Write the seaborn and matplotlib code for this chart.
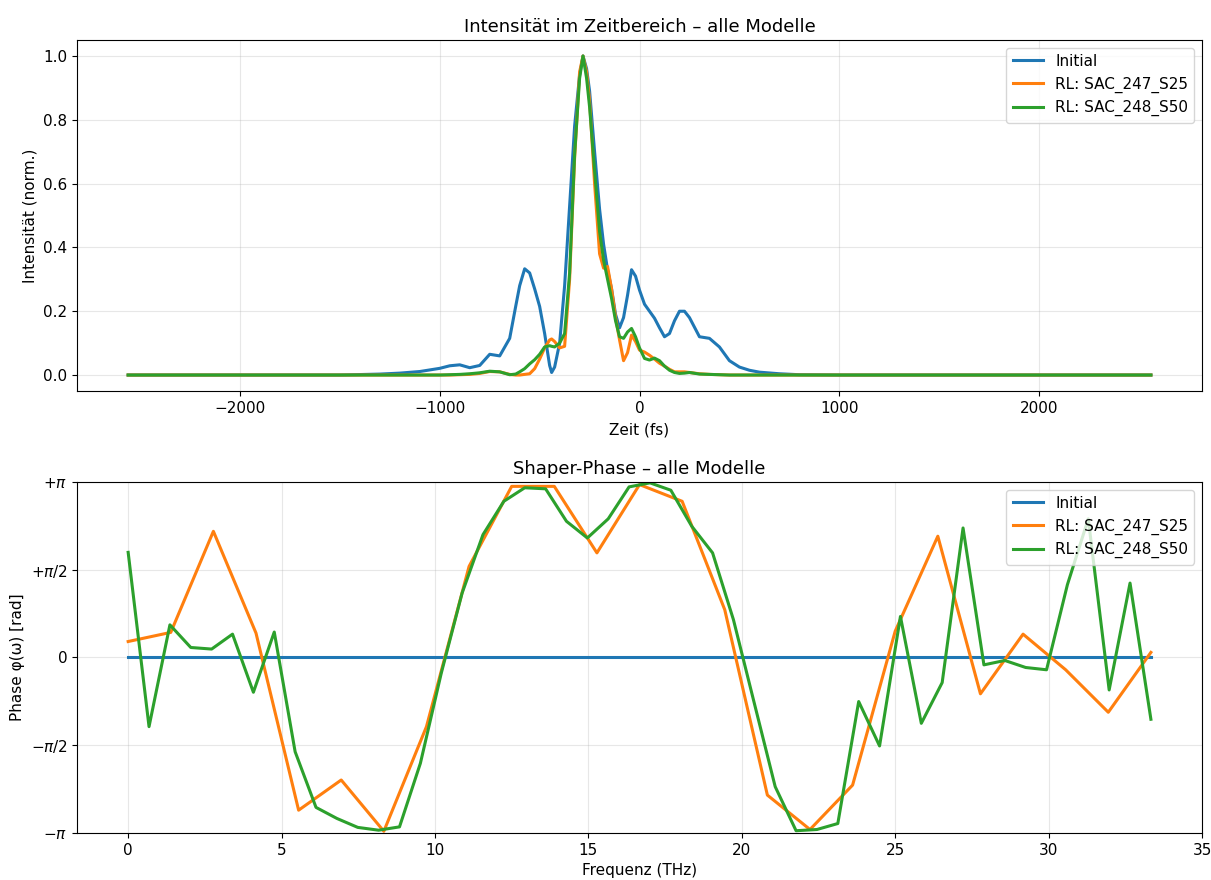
import numpy as np
import pandas as pd
import matplotlib
matplotlib.use("Agg")
import matplotlib.pyplot as plt
import seaborn as sns

# ---------------- data: time domain ----------------
time_fs = [-2560, -1500, -1300, -1200, -1100, -1000, -950, -900, -850, -800,
           -750, -700, -650, -620, -600, -575, -550, -525, -500, -475,
           -450, -440, -425, -400, -375, -350, -325, -300, -283, -265,
           -250, -225, -200, -180, -160, -140, -120, -100, -80, -60,
           -40, -20, 0, 25, 50, 75, 100, 125, 150, 175,
           200, 225, 250, 300, 350, 400, 450, 500, 550, 600,
           700, 800, 1000, 1500, 2560]

int_initial = [0.0, 0.0, 0.003, 0.006, 0.011, 0.021, 0.029, 0.032, 0.023, 0.030,
               0.065, 0.060, 0.115, 0.215, 0.280, 0.333, 0.320, 0.270, 0.215, 0.130,
               0.030, 0.008, 0.025, 0.100, 0.280, 0.530, 0.780, 0.940, 1.000, 0.960,
               0.890, 0.700, 0.520, 0.410, 0.330, 0.270, 0.190, 0.148, 0.180, 0.250,
               0.330, 0.310, 0.266, 0.222, 0.200, 0.178, 0.148, 0.120, 0.130, 0.170,
               0.200, 0.200, 0.180, 0.120, 0.115, 0.088, 0.045, 0.025, 0.015, 0.009,
               0.004, 0.001, 0.0, 0.0, 0.0]

int_sac247 = [0.0, 0.0, 0.0, 0.0, 0.0, 0.0, 0.0, 0.001, 0.002, 0.005,
              0.011, 0.010, 0.002, 0.0, 0.0, 0.002, 0.004, 0.020, 0.050, 0.085,
              0.110, 0.113, 0.105, 0.085, 0.090, 0.300, 0.680, 0.950, 1.000, 0.950,
              0.860, 0.600, 0.380, 0.335, 0.340, 0.270, 0.180, 0.110, 0.045, 0.070,
              0.125, 0.105, 0.078, 0.072, 0.062, 0.050, 0.037, 0.028, 0.018, 0.010,
              0.010, 0.010, 0.008, 0.004, 0.002, 0.001, 0.0, 0.0, 0.0, 0.0,
              0.0, 0.0, 0.0, 0.0, 0.0]

int_sac248 = [0.0, 0.0, 0.0, 0.0, 0.0, 0.0, 0.001, 0.002, 0.004, 0.007,
              0.012, 0.010, 0.001, 0.003, 0.010, 0.020, 0.035, 0.048, 0.065, 0.088,
              0.092, 0.090, 0.088, 0.100, 0.130, 0.320, 0.690, 0.930, 1.000, 0.930,
              0.840, 0.640, 0.450, 0.360, 0.300, 0.240, 0.170, 0.120, 0.115, 0.135,
              0.146, 0.120, 0.085, 0.052, 0.047, 0.053, 0.045, 0.028, 0.015, 0.008,
              0.005, 0.006, 0.008, 0.003, 0.002, 0.001, 0.0, 0.0, 0.0, 0.0,
              0.0, 0.0, 0.0, 0.0, 0.0]

# ---------------- data: shaper phase (in units of pi) ----------------
f_max_thz = 100.0 / 3.0
freq_sac247 = np.linspace(0, f_max_thz, 25)
freq_sac248 = np.linspace(0, f_max_thz, 50)
freq_initial = freq_sac248

phase_initial_pi = [0.0] * 50

phase_sac247_pi = [0.091, 0.143, 0.719, 0.139, -0.870, -0.698, -0.990, -0.394, 0.519, 0.975,
                   0.975, 0.596, 0.985, 0.890, 0.272, -0.784, -0.980, -0.727, 0.150, 0.691,
                   -0.207, 0.133, -0.070, -0.312, 0.029]

phase_sac248_pi = [0.599, -0.394, 0.186, 0.057, 0.048, 0.133, -0.198, 0.145, -0.537, -0.854,
                   -0.917, -0.968, -0.984, -0.965, -0.603, -0.090, 0.367, 0.700, 0.890, 0.967,
                   0.961, 0.776, 0.681, 0.790, 0.972, 0.995, 0.953, 0.748, 0.596, 0.215,
                   -0.261, -0.736, -0.987, -0.980, -0.946, -0.251, -0.504, 0.234, -0.375, -0.143,
                   0.738, -0.042, -0.017, -0.057, -0.070, 0.415, 0.790, -0.185, 0.424, -0.352]

labels = ["Initial", "RL: SAC_247_S25", "RL: SAC_248_S50"]
colors = ["#1f77b4", "#ff7f0e", "#2ca02c"]

# ---------------- build tables ----------------
df_t = pd.concat([
    pd.DataFrame({"t": time_fs, "I": int_initial, "model": labels[0]}),
    pd.DataFrame({"t": time_fs, "I": int_sac247, "model": labels[1]}),
    pd.DataFrame({"t": time_fs, "I": int_sac248, "model": labels[2]}),
], ignore_index=True)

df_p = pd.concat([
    pd.DataFrame({"f": freq_initial, "phi": np.array(phase_initial_pi) * np.pi, "model": labels[0]}),
    pd.DataFrame({"f": freq_sac247, "phi": np.array(phase_sac247_pi) * np.pi, "model": labels[1]}),
    pd.DataFrame({"f": freq_sac248, "phi": np.array(phase_sac248_pi) * np.pi, "model": labels[2]}),
], ignore_index=True)

# ---------------- figure ----------------
fig = plt.figure(figsize=(12.11, 8.8), dpi=100)
ax1 = fig.add_axes([0.0636, 0.5557, 0.9290, 0.3988])
ax2 = fig.add_axes([0.0636, 0.0534, 0.9290, 0.3989])

sns.lineplot(data=df_t, x="t", y="I", hue="model", hue_order=labels,
             palette=colors, estimator=None, linewidth=2.2, ax=ax1)
ax1.set_title("Intensität im Zeitbereich – alle Modelle", fontsize=13)
ax1.set_xlabel("Zeit (fs)", fontsize=11, labelpad=5)
ax1.set_ylabel("Intensität (norm.)", fontsize=11)
ax1.grid(True, alpha=0.3)
ax1.legend(loc="upper right", fontsize=11)

sns.lineplot(data=df_p, x="f", y="phi", hue="model", hue_order=labels,
             palette=colors, estimator=None, linewidth=2.2, ax=ax2)
ax2.set_ylim(-np.pi, np.pi)
ax2.set_yticks([-np.pi, -np.pi / 2, 0, np.pi / 2, np.pi])
ax2.set_yticklabels([r"$-\pi$", r"$-\pi/2$", "0", r"$+\pi/2$", r"$+\pi$"])
ax2.set_title("Shaper-Phase – alle Modelle", fontsize=13)
ax2.set_xlabel("Frequenz (THz)", fontsize=11, labelpad=4)
ax2.set_ylabel("Phase φ(ω) [rad]", fontsize=11)
ax2.grid(True, alpha=0.3)
ax2.legend(loc="upper right", fontsize=11)

for ax in (ax1, ax2):
    ax.tick_params(labelsize=11)

fig.savefig("out.png", dpi=100)
